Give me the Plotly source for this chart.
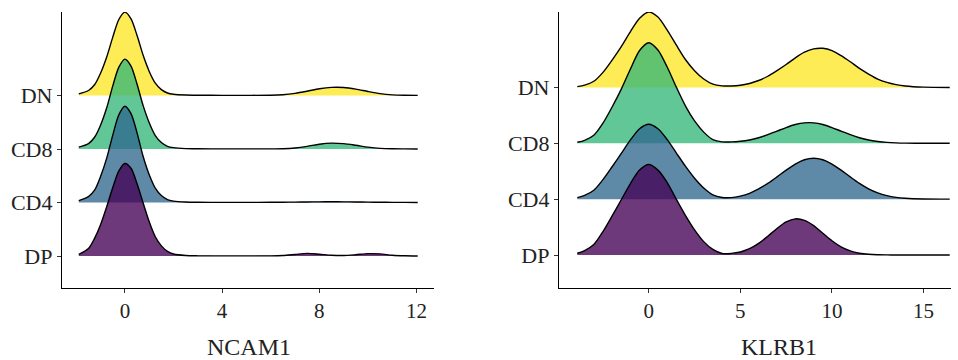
import plotly.graph_objects as go

# ---------------- data ----------------
groups = ["DN", "CD8", "CD4", "DP"]          # drawn top to bottom
group_pos = {"DP": 1, "CD4": 2, "CD8": 3, "DN": 4}
tick_labels = ["DP", "CD4", "CD8", "DN"]
colors = {"DP": "rgba(68,1,84,0.78)", "CD4": "rgba(49,104,142,0.78)",
          "CD8": "rgba(53,183,121,0.78)", "DN": "rgba(253,231,37,0.78)"}

# NCAM1 panel: density heights (in ridge-spacing units) at ncam1_x
ncam1_x = [-1.9, -1.5, -1.25, -1.0, -0.75, -0.5, -0.25, 0, 0.25, 0.5, 0.75, 1.0, 1.25, 1.5,
           1.75, 2.0, 2.5, 3, 4, 5, 6, 6.5, 7, 7.5, 8, 8.5, 9, 9.5, 10, 10.5, 11, 11.5, 12.05]
ncam1_dn = [0.03, 0.093, 0.2, 0.42, 0.72, 1.09, 1.42, 1.557, 1.43, 1.12, 0.75, 0.45, 0.23, 0.11,
            0.047, 0.023, 0.008, 0.004, 0.003, 0.003, 0.005, 0.015, 0.04, 0.08, 0.125, 0.152,
            0.15, 0.12, 0.075, 0.035, 0.012, 0.004, 0.002]
ncam1_cd8 = [0.034, 0.10, 0.22, 0.45, 0.77, 1.18, 1.53, 1.68, 1.55, 1.21, 0.81, 0.49, 0.25, 0.12,
             0.05, 0.025, 0.008, 0.004, 0.003, 0.003, 0.003, 0.006, 0.02, 0.05, 0.09, 0.11,
             0.10, 0.07, 0.035, 0.012, 0.004, 0.002, 0.001]
ncam1_cd4 = [0.036, 0.11, 0.23, 0.49, 0.83, 1.26, 1.64, 1.80, 1.66, 1.30, 0.86, 0.52, 0.27, 0.13,
             0.054, 0.027, 0.009, 0.004, 0.003, 0.003, 0.004, 0.006, 0.008, 0.011, 0.013, 0.014,
             0.013, 0.01, 0.007, 0.005, 0.003, 0.002, 0.001]
ncam1_dp = [0.03, 0.14, 0.33, 0.59, 0.92, 1.28, 1.59, 1.73, 1.64, 1.35, 0.99, 0.64, 0.36, 0.19,
            0.087, 0.038, 0.01, 0.004, 0.003, 0.003, 0.004, 0.01, 0.03, 0.05, 0.035, 0.015,
            0.01, 0.025, 0.045, 0.04, 0.015, 0.005, 0.002]

# KLRB1 panel
klrb1_x = [-3.9, -3.5, -3, -2.5, -2, -1.5, -1, -0.5, 0, 0.5, 1, 1.5, 2, 2.5, 3, 3.5, 4, 4.5, 5,
           5.5, 6, 6.5, 7, 7.5, 8, 8.5, 9, 9.5, 10, 10.5, 11, 11.5, 12, 12.5, 13, 13.5, 14, 15, 16.43]
klrb1_dn = [0.014, 0.04, 0.11, 0.27, 0.49, 0.73, 1.0, 1.24, 1.35, 1.26, 1.03, 0.76, 0.50, 0.30,
            0.15, 0.058, 0.028, 0.026, 0.038, 0.071, 0.124, 0.20, 0.30, 0.41, 0.53, 0.63, 0.69,
            0.70, 0.66, 0.57, 0.46, 0.34, 0.24, 0.15, 0.09, 0.05, 0.025, 0.005, 0.0]
klrb1_cd8 = [0.018, 0.054, 0.144, 0.36, 0.65, 0.97, 1.33, 1.66, 1.80, 1.67, 1.37, 1.01, 0.67, 0.40,
             0.20, 0.065, 0.025, 0.025, 0.036, 0.06, 0.10, 0.154, 0.218, 0.282, 0.336, 0.366,
             0.366, 0.336, 0.282, 0.218, 0.154, 0.10, 0.059, 0.033, 0.016, 0.007, 0.003, 0.001, 0.0]
klrb1_cd4 = [0.027, 0.067, 0.16, 0.35, 0.58, 0.82, 1.06, 1.26, 1.34, 1.26, 1.07, 0.83, 0.59, 0.375,
             0.2, 0.077, 0.03, 0.027, 0.055, 0.105, 0.186, 0.282, 0.398, 0.52, 0.629, 0.706,
             0.733, 0.706, 0.629, 0.52, 0.398, 0.282, 0.186, 0.113, 0.064, 0.033, 0.016, 0.003, 0.0]
klrb1_dp = [0.032, 0.081, 0.19, 0.42, 0.70, 0.99, 1.28, 1.52, 1.62, 1.52, 1.30, 1.0, 0.71, 0.45,
            0.24, 0.10, 0.028, 0.029, 0.054, 0.113, 0.208, 0.336, 0.475, 0.592, 0.648, 0.621,
            0.527, 0.39, 0.255, 0.146, 0.073, 0.033, 0.013, 0.005, 0.002, 0.001, 0.0, 0.0, 0.0]

ncam1 = {"DN": ncam1_dn, "CD8": ncam1_cd8, "CD4": ncam1_cd4, "DP": ncam1_dp}
klrb1 = {"DN": klrb1_dn, "CD8": klrb1_cd8, "CD4": klrb1_cd4, "DP": klrb1_dp}

x_titles = ["NCAM1", "KLRB1"]
ncam1_ticks = [0, 4, 8, 12]
klrb1_ticks = [0, 5, 10, 15]

# ---------------- figure ----------------
W, H = 958, 360
fig = go.Figure()
FONT = "Liberation Serif, Times New Roman, serif"

def add_panel(xs, dens, xa, ya):
    for g in groups:
        base = group_pos[g]
        fig.add_trace(go.Scatter(x=xs, y=[base] * len(xs), mode="lines",
                                 line=dict(width=0, color="rgba(0,0,0,0)"),
                                 xaxis=xa, yaxis=ya, showlegend=False, hoverinfo="skip"))
        fig.add_trace(go.Scatter(x=xs, y=[base + v for v in dens[g]], mode="lines",
                                 line=dict(color="black", width=1.4, shape="spline", smoothing=0.8),
                                 fill="tonexty", fillcolor=colors[g],
                                 xaxis=xa, yaxis=ya, showlegend=False, name=g))

add_panel(ncam1_x, ncam1, "x", "y")
add_panel(klrb1_x, klrb1, "x2", "y2")

axis_common = dict(showline=True, linecolor="black", linewidth=1.3, ticks="outside",
                   ticklen=4, tickwidth=1, tickcolor="#333333", showgrid=False, zeroline=False,
                   tickfont=dict(family=FONT, size=21, color="#222222"))
yfont = dict(family=FONT, size=22, color="#222222")
ydom = [1 - 288 / H, 1 - 12 / H]

fig.update_layout(
    width=W, height=H, margin=dict(l=0, r=0, t=0, b=0),
    paper_bgcolor="white", plot_bgcolor="white",
    xaxis=dict(domain=[62 / W, 434 / W], range=[-2.59, 12.72], tickvals=ncam1_ticks,
               anchor="y", **axis_common),
    yaxis=dict(domain=ydom, range=[0.403, 5.56], tickvals=[1, 2, 3, 4], ticktext=tick_labels,
               anchor="x", **{**axis_common, "tickfont": yfont}),
    xaxis2=dict(domain=[559 / W, 951 / W], range=[-4.9, 16.5], tickvals=klrb1_ticks,
                anchor="y2", **axis_common),
    yaxis2=dict(domain=ydom, range=[0.41, 5.35], tickvals=[1, 2, 3, 4], ticktext=tick_labels,
                anchor="x2", **{**axis_common, "tickfont": yfont}),
)

for txt, xc in zip(x_titles, [249, 779]):
    fig.add_annotation(text=txt, x=xc / W, y=0, xref="paper", yref="paper",
                       yanchor="bottom", xanchor="center", showarrow=False, yshift=-2,
                       font=dict(family=FONT, size=24, color="#222222"))

fig.write_html("out.html")
